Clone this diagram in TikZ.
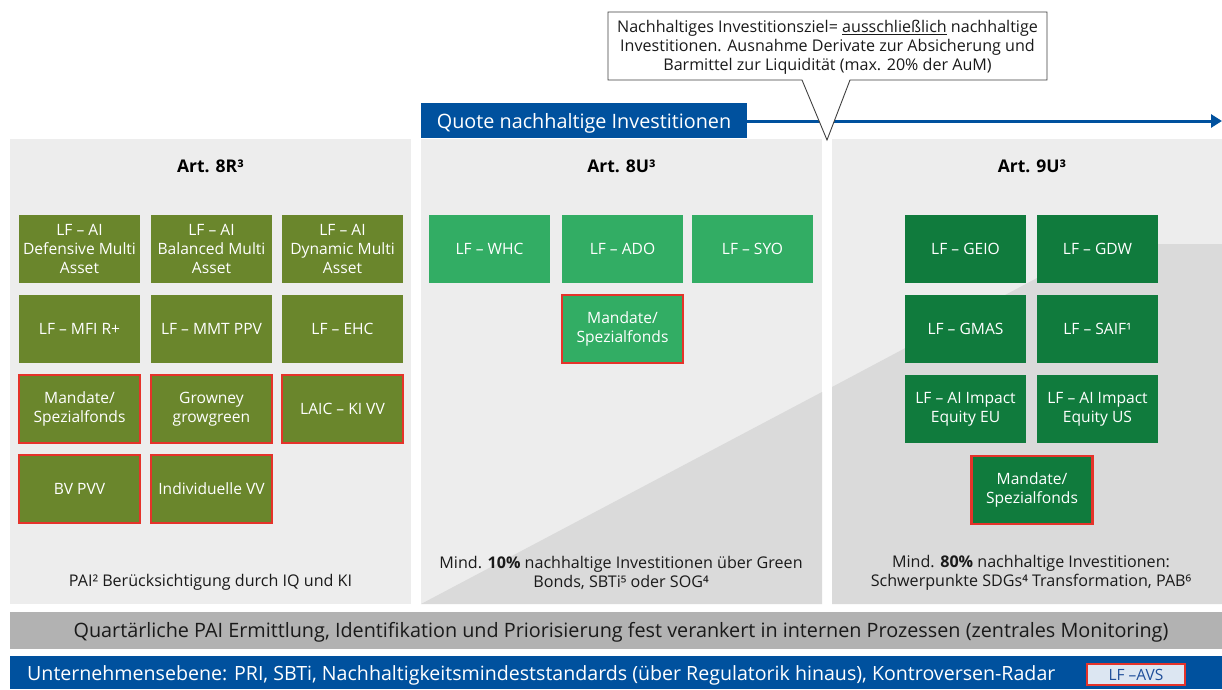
\documentclass[tikz,border=0pt]{standalone}
\usepackage{fontspec}
\setmainfont{Open Sans}
\usetikzlibrary{arrows.meta}
\definecolor{olive}{HTML}{6A862C}
\definecolor{lgreen}{HTML}{32AD64}
\definecolor{dgreen}{HTML}{107B3D}
\definecolor{redb}{HTML}{E5332A}
\definecolor{blueb}{HTML}{00519E}
\definecolor{panelc}{HTML}{EDEDED}
\definecolor{paneld}{HTML}{DADADA}
\definecolor{graybar}{HTML}{B2B2B2}
\definecolor{txt}{HTML}{1A1A1A}
\definecolor{avsfill}{HTML}{DCE6F2}
\definecolor{avstxt}{HTML}{1F4E9A}
\tikzset{
  fbox/.style={minimum width=121pt, minimum height=68pt, inner sep=0pt, align=center, text=white,
    font=\fontsize{15.6}{18.7}\selectfont},
  olivebox/.style={fbox, fill=olive},
  lgbox/.style={fbox, fill=lgreen},
  dgbox/.style={fbox, fill=dgreen},
  redframe/.style={draw=redb, line width=2.8pt},
  title/.style={font=\fontsize{17.5}{20}\selectfont\bfseries, text=black},
  note/.style={font=\fontsize{16.1}{19}\selectfont, text=txt, align=center},
  panel/.style={fill=panelc, draw=none},
}
\begin{document}
\begin{tikzpicture}[x=1pt,y=-1pt]
\useasboundingbox (0,0) rectangle (1222,689);
\fill[white] (0,0) rectangle (1222,689);
% panels
\fill[panel] (10,139) rectangle (411,604);
\fill[panel] (421,139) rectangle (822,604);
\fill[panel] (832,139) rectangle (1222,604);
\fill[paneld] (421,604) -- (822,392) -- (822,604) -- cycle;
\fill[paneld] (832,387) -- (1101,244) -- (1222,244) -- (1222,604) -- (832,604) -- cycle;
% header
\fill[blueb] (421,103) rectangle (747,138);
\node[text=white, inner sep=0pt, font=\fontsize{19.8}{22}\selectfont] (hdr) at (584,123) {Quote nachhaltige Investitionen};
\coordinate (hdrE) at (747,121);
\coordinate (arrEnd) at (1222,121);
\draw[blueb, line width=3pt, -{Triangle[length=11pt,width=13pt]}] (hdrE) -- (arrEnd);
% callout
\coordinate (cTip) at (827,140);
\filldraw[fill=white, draw=black!75, line width=0.9pt] (608,12) -- (1047,12) -- (1047,80) -- (850,80) -- (cTip) -- (802,80) -- (608,80) -- cycle;
\node[note] (callt) at (827.5,47) {Nachhaltiges Investitionsziel= \underline{ausschließlich} nachhaltige\\Investitionen. Ausnahme Derivate zur Absicherung und\\Barmittel zur Liquidität (max. 20\% der AuM)};
% titles
\node[title] (t1) at (210.5,166) {Art. 8R³};
\node[title] (t2) at (621.5,166) {Art. 8U³};
\node[title] (t3) at (1032,166) {Art. 9U³};
% panel 1 boxes
\node[olivebox] (a11) at (79.5,249) {LF – AI\\Defensive Multi\\Asset};
\node[olivebox] (a12) at (211.5,249) {LF – AI\\Balanced Multi\\Asset};
\node[olivebox] (a13) at (342.5,249) {LF – AI\\Dynamic Multi\\Asset};
\node[olivebox] (a21) at (79.5,329) {LF – MFI R+};
\node[olivebox] (a22) at (211.5,329) {LF – MMT PPV};
\node[olivebox] (a23) at (342.5,329) {LF – EHC};
\node[olivebox, redframe] (a31) at (79.5,409) {Mandate/\\Spezialfonds};
\node[olivebox, redframe] (a32) at (211.5,409) {Growney\\growgreen};
\node[olivebox, redframe] (a33) at (342.5,409) {LAIC – KI VV};
\node[olivebox, redframe] (a41) at (79.5,489) {BV PVV};
\node[olivebox, redframe] (a42) at (211.5,489) {Individuelle VV};
% panel 2 boxes
\node[lgbox] (b11) at (489.5,249) {LF – WHC};
\node[lgbox] (b12) at (622.5,249) {LF – ADO};
\node[lgbox] (b13) at (752.5,249) {LF – SYO};
\node[lgbox, redframe] (b21) at (622.5,329) {Mandate/\\Spezialfonds};
% panel 3 boxes
\node[dgbox] (c11) at (965.5,249) {LF – GEIO};
\node[dgbox] (c12) at (1097.5,249) {LF – GDW};
\node[dgbox] (c21) at (965.5,329) {LF – GMAS};
\node[dgbox] (c22) at (1097.5,329) {LF – SAIF¹};
\node[dgbox] (c31) at (965.5,409) {LF – AI Impact\\Equity EU};
\node[dgbox] (c32) at (1097.5,409) {LF – AI Impact\\Equity US};
\node[dgbox, redframe] (c41) at (1032,490) {Mandate/\\Spezialfonds};
% bottom notes
\node[note] (n1) at (210.5,582) {PAI² Berücksichtigung durch IQ und KI};
\node[note] (n2) at (621,573) {Mind. \textbf{10\%} nachhaltige Investitionen über Green\\Bonds, SBTi⁵ oder SOG⁴};
\node[note] (n3) at (1031,573) {Mind. \textbf{80\%} nachhaltige Investitionen:\\Schwerpunkte SDGs⁴ Transformation, PAB⁶};
% bars
\fill[graybar] (10,612) rectangle (1222,649);
\node[font=\fontsize{19.8}{22}\selectfont, text=txt] (gb) at (621,632.5) {Quartärliche PAI Ermittlung, Identifikation und Priorisierung fest verankert in internen Prozessen (zentrales Monitoring)};
\fill[blueb] (10,656) rectangle (1222,689);
\node[font=\fontsize{19.6}{22}\selectfont, text=white, anchor=west, inner sep=0pt] (bb) at (27,675.5) {Unternehmensebene: PRI, SBTi, Nachhaltigkeitsmindeststandards (über Regulatorik hinaus), Kontroversen-Radar};
\node[fill=avsfill, draw=redb, line width=2.2pt, minimum width=98pt, minimum height=21pt, inner sep=0pt,
  text=avstxt, font=\fontsize{15.5}{17}\selectfont] (avs) at (1136,674.5) {LF –AVS};
\end{tikzpicture}
\end{document}
